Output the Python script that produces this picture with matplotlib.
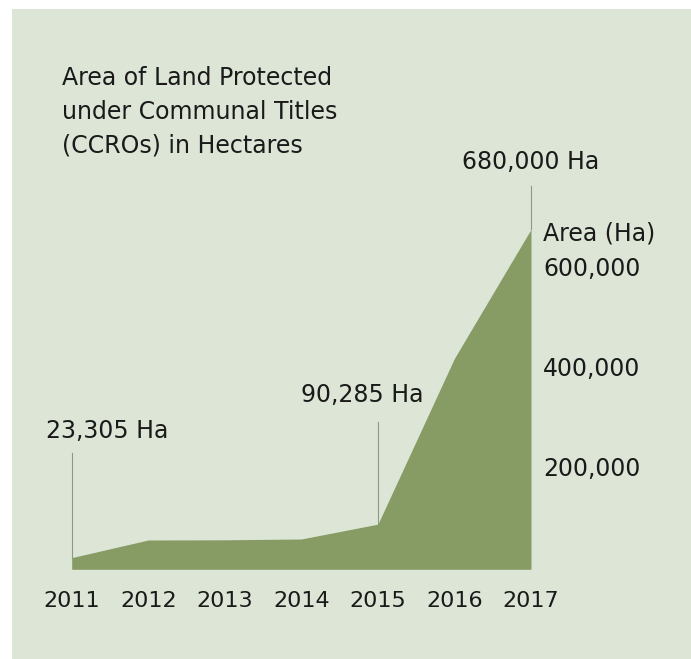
import matplotlib.pyplot as plt
from matplotlib.patches import Rectangle

# CCRO land area by year (hectares)
years = [2011, 2012, 2013, 2014, 2015, 2016, 2017]
area_ha = [23305, 58600, 59000, 60600, 90285, 422000, 680000]

y_ticks = [200000, 400000, 600000]
y_tick_labels = ["200,000", "400,000", "600,000"]

title_lines = ["Area of Land Protected", "under Communal Titles", "(CCROs) in Hectares"]

# callouts: (year, value, line top, text x, text y, label)
callouts = [
    (2011, 23305, 232000, 2011.47, 277000, "23,305 Ha"),
    (2015, 90285, 295000, 2014.8, 348000, "90,285 Ha"),
    (2017, 680000, 767000, 2017.0, 815000, "680,000 Ha"),
]

bg = "#dce5d6"
fill = "#879b65"
text_color = "#1a1a1a"
font = "DejaVu Sans"
fs = 17
fs_years = 16

W, H = 691, 659
fig = plt.figure(figsize=(W / 100, H / 100), dpi=100)
fig.patch.set_facecolor("white")
fig.add_artist(Rectangle((12 / W, 0), 1, 1 - 9 / H, transform=fig.transFigure,
                         facecolor=bg, edgecolor="none", zorder=-10))

# axes placed so that 2011..2017 spans x=72..531 px and 0 sits at y=569 px
ax = fig.add_axes([71.7 / W, (H - 569.3) / H, (531 - 71.7) / W, 350 / H])
ax.set_facecolor("none")
ax.set_xlim(2011, 2017)
ax.set_ylim(0, 700000)
ax.axis("off")

ax.fill_between(years, area_ha, 0, color=fill, linewidth=0, zorder=2)

for yr, val, top, tx, ty, label in callouts:
    ax.plot([yr, yr], [val, top], color="#8c9a86", linewidth=0.8, zorder=1, clip_on=False)
    ax.text(tx, ty, label, ha="center", va="center", fontsize=fs, color=text_color,
            family=font, clip_on=False)

for yr in years:
    ax.text(yr, -64000, str(yr), ha="center", va="center", fontsize=fs_years,
            color=text_color, family=font, clip_on=False)

for v, lab in zip(y_ticks, y_tick_labels):
    ax.text(2017.16, v, lab, ha="left", va="center", fontsize=fs,
            color=text_color, family=font, clip_on=False)
ax.text(2017.16, 672000, "Area (Ha)", ha="left", va="center", fontsize=fs,
        color=text_color, family=font, clip_on=False)

for i, line in enumerate(title_lines):
    fig.text(62 / W, 1 - (78 + 34 * i) / H, line, ha="left", va="center",
             fontsize=fs, color=text_color, family=font)

fig.savefig("out.png", dpi=100)
